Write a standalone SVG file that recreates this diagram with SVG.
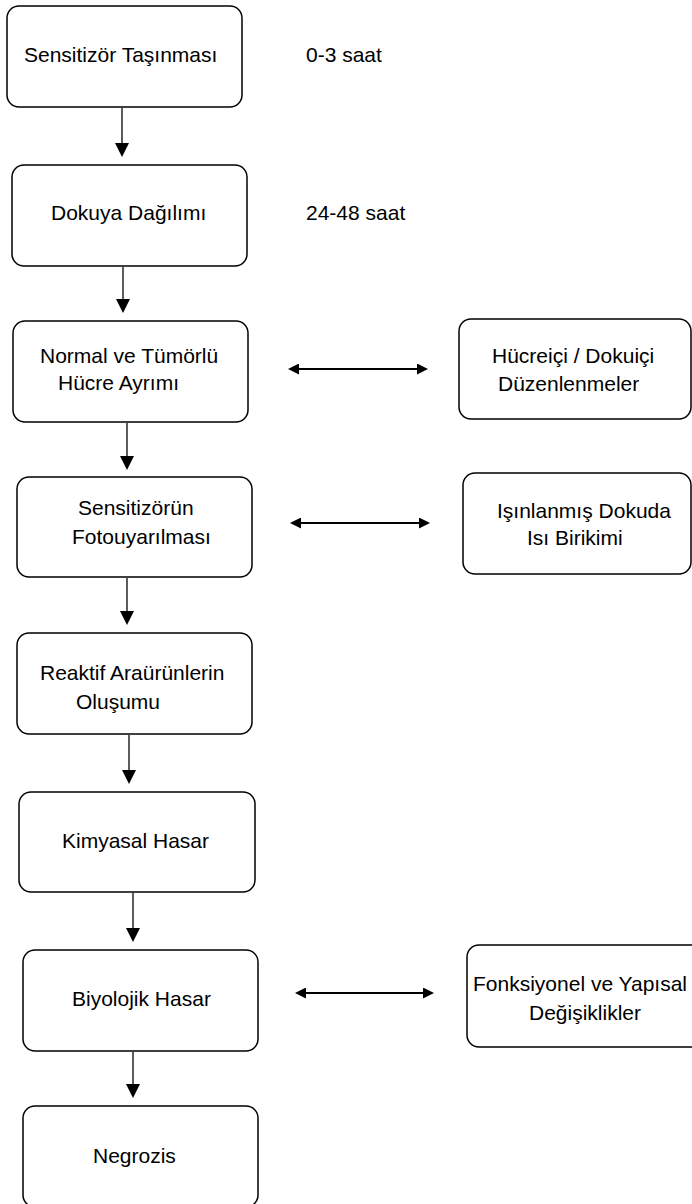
<svg xmlns="http://www.w3.org/2000/svg" width="692" height="1204" viewBox="0 0 692 1204">
<style>
.box{fill:#fff;stroke:#000;stroke-width:1.5}
.t{font-family:"Liberation Sans",Arial,sans-serif;font-size:21px;fill:#000}
.v{stroke:#333;stroke-width:1.6;fill:none;marker-end:url(#vh)}
.h{stroke:#000;stroke-width:2;fill:none;marker-end:url(#hh);marker-start:url(#hh)}
</style>
<defs>
<marker id="vh" markerUnits="userSpaceOnUse" viewBox="0 0 14 14" markerWidth="14" markerHeight="14" refX="6" refY="7" orient="auto"><path d="M0,0 L14,7 L0,14 z" fill="#000"/></marker>
<marker id="hh" markerUnits="userSpaceOnUse" viewBox="0 0 11 11" markerWidth="11" markerHeight="11" refX="5" refY="5.5" orient="auto-start-reverse"><path d="M0,0 L11,5.5 L0,11 z" fill="#000"/></marker>
</defs>
<rect width="692" height="1204" fill="#fff"/>
<g id="connectors">
<path class="v" d="M122,108 L122,149"/>
<path class="v" d="M123,267 L123,305"/>
<path class="v" d="M127,423 L127,462"/>
<path class="v" d="M127,578 L127,617"/>
<path class="v" d="M129,735 L129,776"/>
<path class="v" d="M133,893 L133,934"/>
<path class="v" d="M133,1052 L133,1090"/>
<path class="h" d="M294,369 L422,369"/>
<path class="h" d="M296,523 L424,523"/>
<path class="h" d="M301,993 L428,993"/>
</g>
<g id="n1"><rect class="box" x="7" y="6" width="235" height="101" rx="12"/><text class="t" x="24" y="62">Sensitizör Taşınması</text></g>
<g id="t1"><text class="t" x="306" y="62">0-3 saat</text></g>
<g id="n2"><rect class="box" x="12" y="165" width="235" height="101" rx="12"/><text class="t" x="51" y="220">Dokuya Dağılımı</text></g>
<g id="t2"><text class="t" x="306" y="220">24-48 saat</text></g>
<g id="n3"><rect class="box" x="13" y="321" width="235" height="101" rx="12"/><text class="t" x="40" y="363">Normal ve Tümörlü</text><text class="t" x="58" y="390">Hücre Ayrımı</text></g>
<g id="nA"><rect class="box" x="459" y="319" width="232" height="100" rx="12"/><text class="t" x="492" y="363">Hücreiçi / Dokuiçi</text><text class="t" x="498" y="391">Düzenlenmeler</text></g>
<g id="n4"><rect class="box" x="17" y="477" width="235" height="100" rx="12"/><text class="t" x="78" y="515">Sensitizörün</text><text class="t" x="72" y="544">Fotouyarılması</text></g>
<g id="nB"><rect class="box" x="463" y="473" width="228" height="101" rx="12"/><text class="t" x="497" y="518">Işınlanmış Dokuda</text><text class="t" x="527" y="545">Isı Birikimi</text></g>
<g id="n5"><rect class="box" x="17" y="633" width="235" height="101" rx="12"/><text class="t" x="40" y="680">Reaktif Araürünlerin</text><text class="t" x="76" y="709">Oluşumu</text></g>
<g id="n6"><rect class="box" x="19" y="792" width="236" height="100" rx="12"/><text class="t" x="62" y="848">Kimyasal Hasar</text></g>
<g id="n7"><rect class="box" x="23" y="950" width="235" height="101" rx="12"/><text class="t" x="72" y="1006">Biyolojik Hasar</text></g>
<g id="nC"><rect class="box" x="467" y="945" width="240" height="102" rx="12"/><text class="t" x="473" y="991">Fonksiyonel ve Yapısal</text><text class="t" x="529" y="1020">Değişiklikler</text></g>
<g id="n8"><rect class="box" x="23" y="1106" width="235" height="101" rx="12"/><text class="t" x="93" y="1163">Negrozis</text></g>
</svg>
